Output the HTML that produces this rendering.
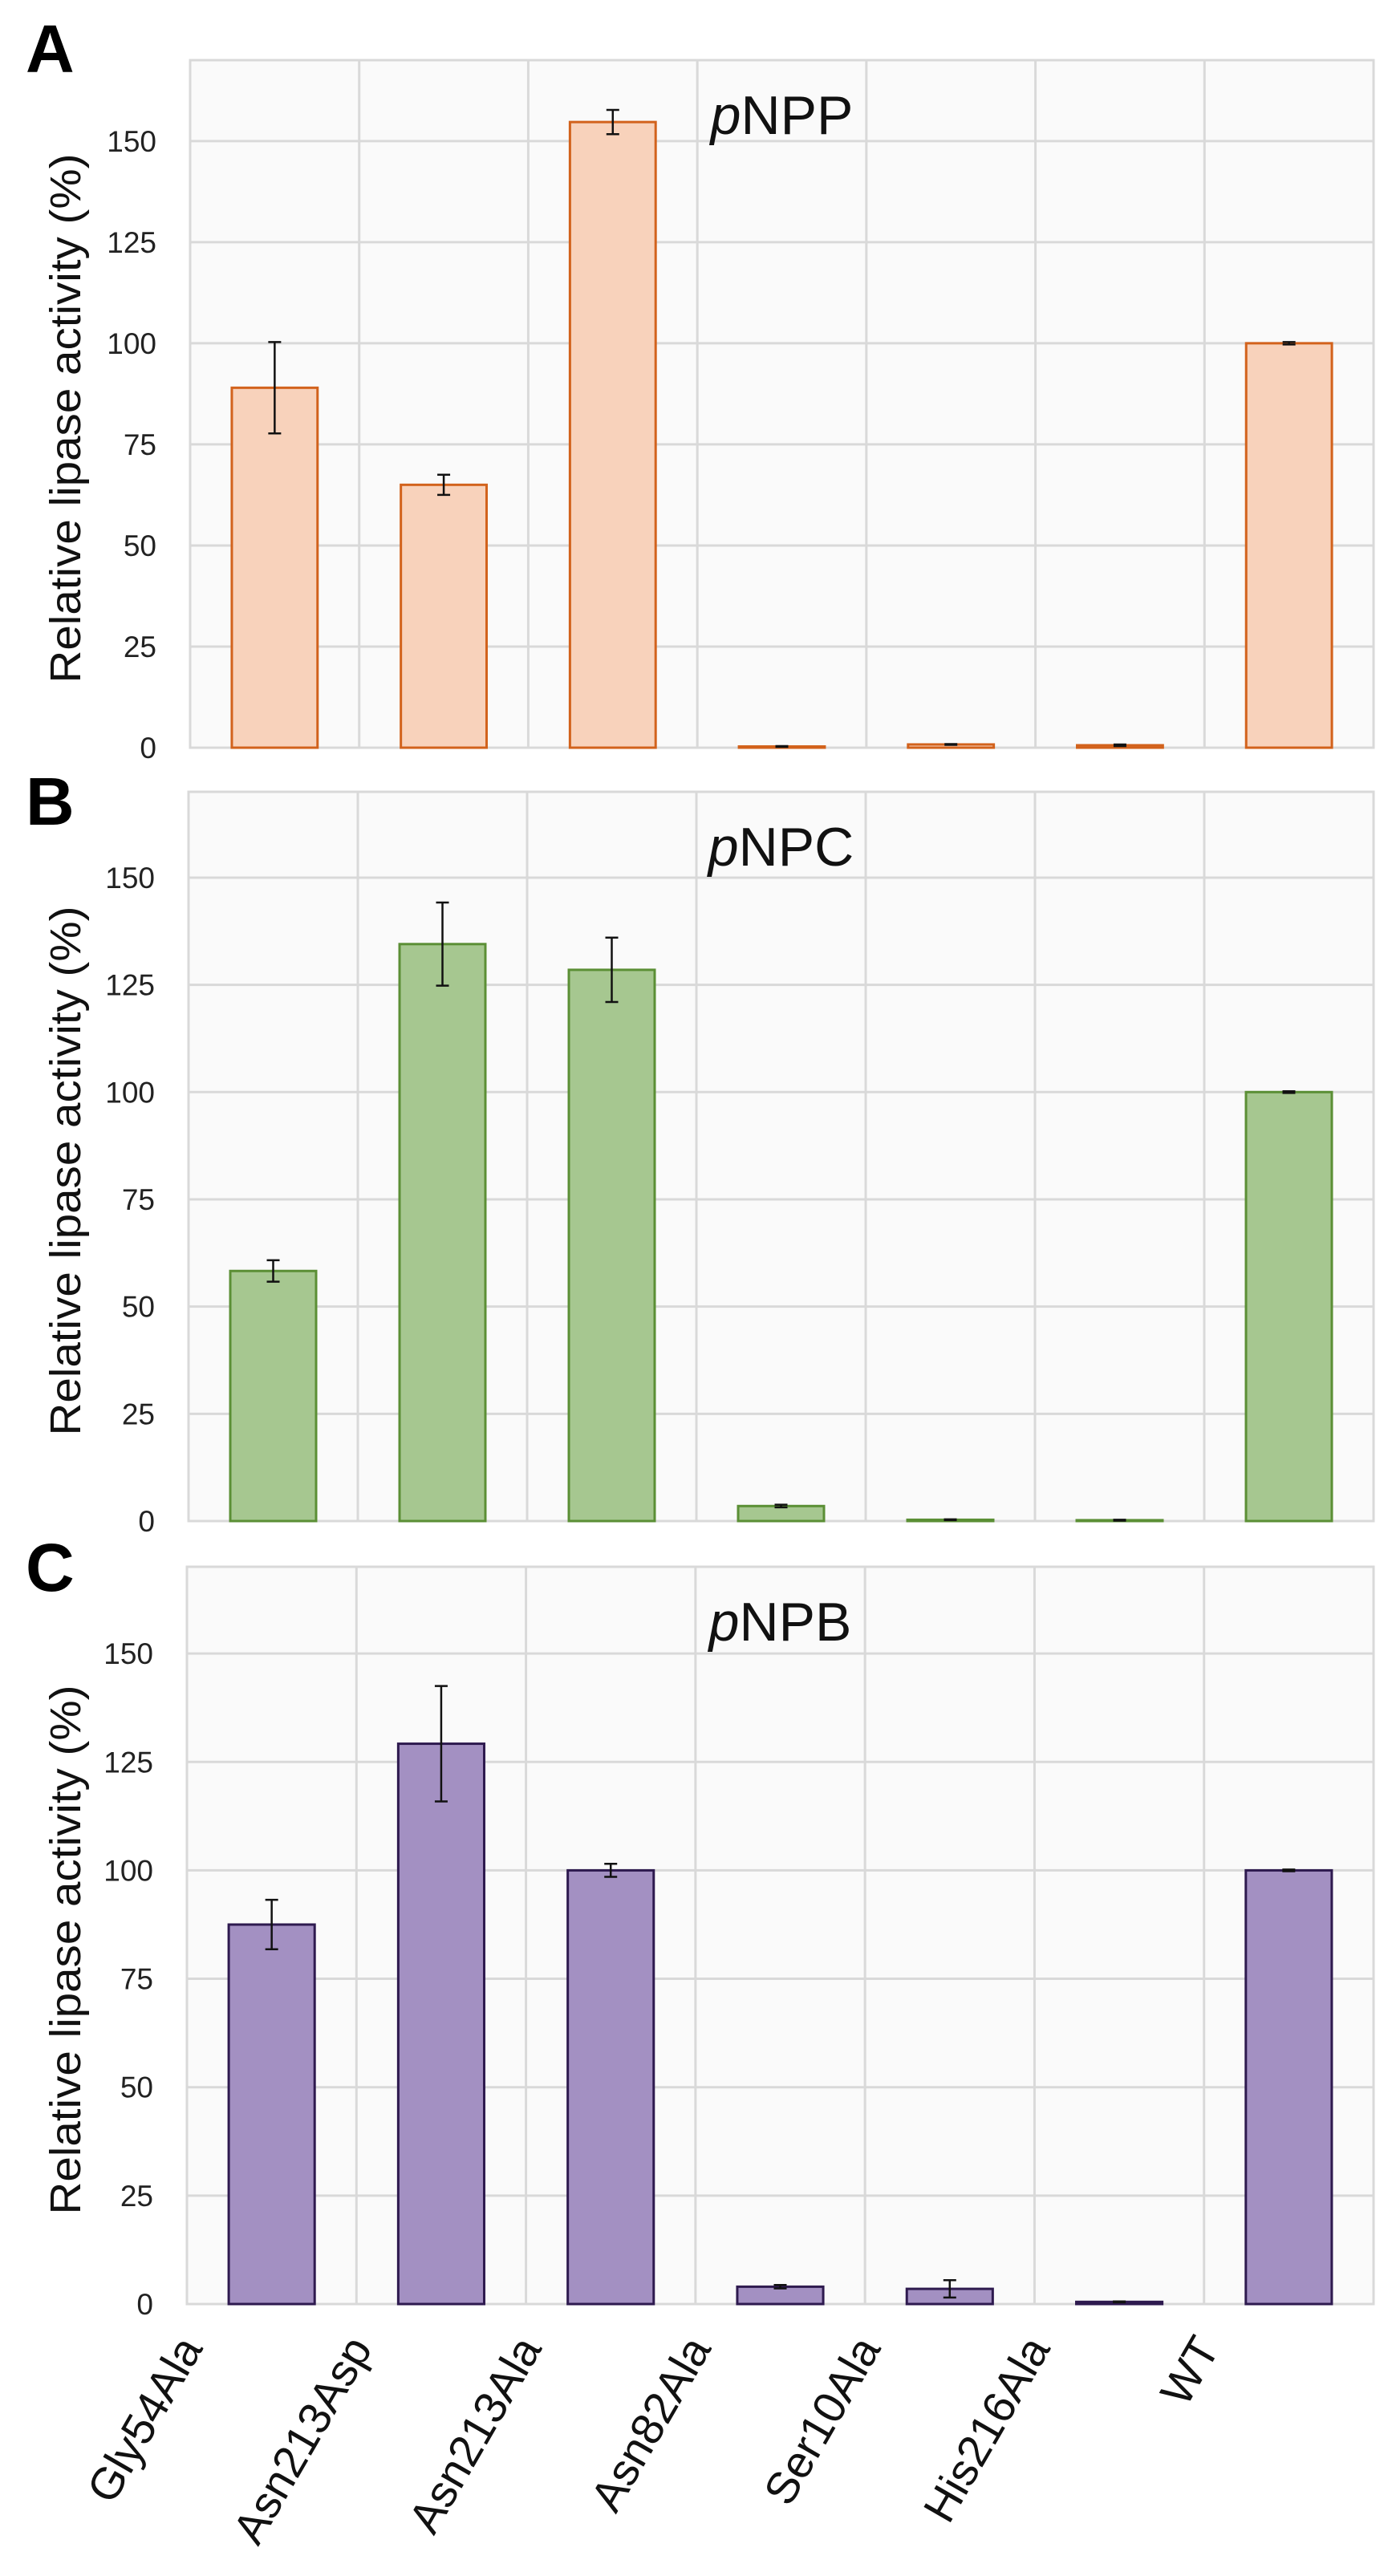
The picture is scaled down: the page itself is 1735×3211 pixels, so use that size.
<!DOCTYPE html>
<html><head><meta charset="utf-8"><style>
html,body{margin:0;padding:0;background:#fff;}
svg{display:block;font-family:"Liberation Sans",sans-serif;}
</style></head><body>
<svg id="fig" width="1735" height="3211" viewBox="0 0 1735 3211" xmlns="http://www.w3.org/2000/svg"></svg>
<script>
const categories = ["Gly54Ala","Asn213Asp","Asn213Ala","Asn82Ala","Ser10Ala","His216Ala","WT"];
const yTicks = [0,25,50,75,100,125,150];
const yMax = 170;
const valuesA = [89, 65, 154.7, 0.3, 0.8, 0.6, 100];
const errA = [11.3, 2.5, 3, 0.1, 0.1, 0.2, 0.3];
const valuesB = [58.3, 134.5, 128.5, 3.5, 0.3, 0.2, 100];
const errB = [2.5, 9.7, 7.5, 0.3, 0.1, 0.1, 0.2];
const valuesC = [87.5, 129.2, 100, 4, 3.5, 0.5, 100];
const errC = [5.7, 13.3, 1.5, 0.4, 2, 0.1, 0.2];
const titles = ["NPP","NPC","NPB"];
const letters = ["A","B","C"];

const NS = "http://www.w3.org/2000/svg";
const svg = document.getElementById("fig");
function mk(tag, attrs, parent) {
  const e = document.createElementNS(NS, tag);
  for (const k in attrs) e.setAttribute(k, attrs[k]);
  (parent || svg).appendChild(e);
  return e;
}
const panels = [
  {vals: valuesA, errs: errA, top: 75, bottom: 932, left: 237, right: 1712, fill: "#f8d2bb", stroke: "#d2621c", letterY: 90},
  {vals: valuesB, errs: errB, top: 987, bottom: 1896, left: 235, right: 1712, fill: "#a6c790", stroke: "#5b8f35", letterY: 1028},
  {vals: valuesC, errs: errC, top: 1953, bottom: 2872, left: 233, right: 1712, fill: "#a390c2", stroke: "#2e1a4f", letterY: 1983}
];
panels.forEach((p, pi) => {
  const g = mk("g", {});
  
  
  const yS = v => p.bottom - v / yMax * (p.bottom - p.top);
  const cw = (p.right - p.left) / categories.length;
  const xC = i => p.left + cw * (i + 0.5);
  const bg = mk("rect", {x: p.left, y: p.top, width: p.right - p.left, height: p.bottom - p.top, fill: "#fafafa", stroke: "#d9d9d9", "stroke-width": 3}, g);
  
  
  yTicks.forEach(t => {
    const y = yS(t);
    const gl = mk("line", {x1: p.left, x2: p.right, y1: y, y2: y, stroke: "#d9d9d9", "stroke-width": 3}, g);
    
    
    const tl = mk("text", {x: p.left - 42, y: y + 13, "text-anchor": "end", "font-size": 37, fill: "#222"}, g);
    tl.textContent = t;
    
    
  });
  for (let i = 1; i < categories.length; i++) {
    const x = p.left + cw * i;
    const vl = mk("line", {x1: x, x2: x, y1: p.top, y2: p.bottom, stroke: "#d9d9d9", "stroke-width": 3}, g);
    
    
  }
  p.vals.forEach((v, i) => {
    const bw = cw * 0.507;
    const yt = yS(v);
    const b = mk("rect", {x: xC(i) - bw / 2, y: yt, width: bw, height: Math.max(p.bottom - yt, 1), fill: p.fill, stroke: p.stroke, "stroke-width": 3}, g);
    
    
    const e = p.errs[i];
    const y1 = yS(v + e), y2 = yS(Math.max(v - e, 0));
    const eb = mk("path", {d: `M${xC(i)},${y1}V${y2}M${xC(i)-8},${y1}H${xC(i)+8}M${xC(i)-8},${y2}H${xC(i)+8}`, stroke: "#111", "stroke-width": 2.5, fill: "none"}, g);
    
    
  });
  const tt = mk("text", {x: (p.left + p.right) / 2, y: p.top + 92, "text-anchor": "middle", "font-size": 68, fill: "#111"}, g);
  tt.innerHTML = '<tspan font-style="italic">p</tspan>' + titles[pi];
  
  
  const lt = mk("text", {x: 32, y: p.letterY, "font-size": 84, "font-weight": "bold", fill: "#000"}, g);
  lt.textContent = letters[pi];
  
  
  const cy = (p.top + p.bottom) / 2 + 18;
  const yt = mk("text", {x: 0, y: 0, transform: `translate(100,${cy}) rotate(-90)`, "text-anchor": "middle", "font-size": 54, fill: "#111", textLength: 660, lengthAdjust: "spacingAndGlyphs"}, g);
  yt.textContent = "Relative lipase activity (%)";
  
  
  if (pi === 2) {
    categories.forEach((c, i) => {
      const ax = xC(i) - 85, ay = p.bottom + 55;
      const xl = mk("text", {x: 0, y: 0, transform: `translate(${ax},${ay}) rotate(-60)`, "text-anchor": "end", "font-size": 56, fill: "#111"}, g);
      xl.textContent = c;
      
      
    });
  }
});
</script>
</body></html>
